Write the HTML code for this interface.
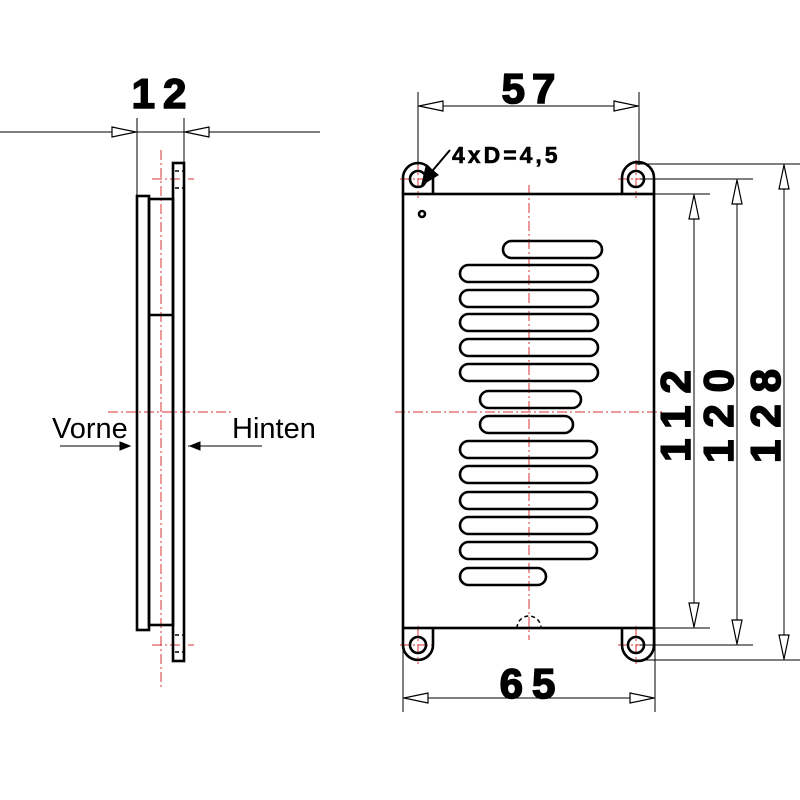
<!DOCTYPE html>
<html><head><meta charset="utf-8"><style>html,body{margin:0;padding:0;background:#fff}svg{display:block}</style></head>
<body>
<svg width="800" height="800" viewBox="0 0 800 800" xmlns="http://www.w3.org/2000/svg">
<defs>
<marker id="ar" viewBox="0 0 26 12" refX="26" refY="6" markerWidth="26" markerHeight="12" markerUnits="userSpaceOnUse" orient="auto">
<path d="M1,1 L25,6 L1,11 Z" fill="#fff" stroke="#000" stroke-width="1.2"/></marker>
</defs>
<g fill="none" stroke="#d33" stroke-width="1" stroke-dasharray="10,3,2,3">
<line x1="161" y1="150" x2="161" y2="690"/>
<line x1="108" y1="412" x2="232" y2="412"/>
<line x1="152" y1="179" x2="194" y2="179"/>
<line x1="152" y1="645" x2="194" y2="645"/>
<line x1="529" y1="185" x2="529" y2="640"/>
<line x1="395" y1="412" x2="665" y2="412"/>
<line x1="400" y1="179" x2="436" y2="179"/><line x1="418" y1="160" x2="418" y2="198"/>
<line x1="618" y1="179" x2="654" y2="179"/><line x1="636" y1="160" x2="636" y2="198"/>
<line x1="400" y1="645" x2="436" y2="645"/><line x1="418" y1="626" x2="418" y2="664"/>
<line x1="618" y1="645" x2="654" y2="645"/><line x1="636" y1="626" x2="636" y2="664"/>
</g>
<g fill="none" stroke="#000" stroke-width="1">
<line x1="0" y1="132" x2="320" y2="132"/>
<line x1="137" y1="118" x2="137" y2="195"/>
<line x1="184" y1="118" x2="184" y2="163"/>
<line x1="60" y1="446" x2="130" y2="446"/>
<line x1="262" y1="446" x2="188" y2="446"/>
</g>
<line x1="90" y1="132" x2="137" y2="132" stroke="#000" marker-end="url(#ar)"/>
<line x1="230" y1="132" x2="184" y2="132" stroke="#000" marker-end="url(#ar)"/>
<path d="M120,442 L130,446 L120,450 Z" fill="#000" stroke="#000"/>
<path d="M200,442 L190,446 L200,450 Z" fill="#000" stroke="#000"/>
<g fill="none" stroke="#000" stroke-width="2.6">
<rect x="137" y="196" width="12" height="434"/>
<rect x="149" y="199" width="24" height="426"/>
<line x1="149" y1="315" x2="173" y2="315"/>
<rect x="173" y="163" width="11" height="498"/>
</g>
<g stroke="#000" stroke-width="1.5" stroke-dasharray="4,3">
<line x1="175" y1="171" x2="183" y2="171"/><line x1="175" y1="188" x2="183" y2="188"/>
<line x1="175" y1="635" x2="183" y2="635"/><line x1="175" y1="652" x2="183" y2="652"/>
</g>
<g font-family="Liberation Sans, sans-serif" fill="#000">
<text x="52" y="438" font-size="29">Vorne</text>
<text x="232" y="438" font-size="29">Hinten</text>
<g font-weight="bold" stroke="#000" stroke-width="1.6" text-anchor="middle">
<text x="163" y="108" font-size="42" letter-spacing="8">12</text>
<text x="532" y="103" font-size="42" letter-spacing="7">57</text>
<text x="532" y="698" font-size="42" letter-spacing="9">65</text>
<text transform="translate(690,410) rotate(-90)" font-size="42" letter-spacing="12">112</text>
<text transform="translate(733,410) rotate(-90)" font-size="42" letter-spacing="12">120</text>
<text transform="translate(780,410) rotate(-90)" font-size="42" letter-spacing="12">128</text>
</g>
<text x="452" y="163" font-size="23" font-weight="bold" stroke="#000" stroke-width="0.6" letter-spacing="3">4xD=4,5</text>
</g>
<g fill="none" stroke="#000" stroke-width="2.6">
<path d="M403,194 L403,178 A15,15 0 0 1 433,178 L433,194"/>
<path d="M622,194 L622,178 A16,16 0 0 1 654,178 L654,194"/>
<rect x="403" y="194" width="251" height="434"/>
<path d="M403,628 L403,645 A15,15 0 0 0 433,645 L433,628"/>
<path d="M622,628 L622,645 A16,16 0 0 0 654,645 L654,628"/>
<circle cx="418" cy="179" r="8"/><circle cx="636" cy="179" r="8"/>
<circle cx="418" cy="645" r="8"/><circle cx="636" cy="645" r="8"/>
<circle cx="422" cy="214" r="3"/>
<rect x="503" y="241" width="99" height="17" rx="8.5"/>
<rect x="460" y="265" width="138" height="17" rx="8.5"/>
<rect x="460" y="290" width="138" height="17" rx="8.5"/>
<rect x="460" y="314" width="138" height="17" rx="8.5"/>
<rect x="460" y="339" width="138" height="17" rx="8.5"/>
<rect x="460" y="364" width="138" height="17" rx="8.5"/>
<rect x="480" y="391" width="101" height="17" rx="8.5"/>
<rect x="480" y="416" width="93" height="17" rx="8.5"/>
<rect x="460" y="441" width="137" height="17" rx="8.5"/>
<rect x="460" y="466" width="137" height="17" rx="8.5"/>
<rect x="460" y="492" width="137" height="17" rx="8.5"/>
<rect x="460" y="517" width="137" height="17" rx="8.5"/>
<rect x="460" y="542" width="137" height="17" rx="8.5"/>
<rect x="460" y="568" width="86" height="17" rx="8.5"/>
</g>
<path d="M517,628 A12,12 0 0 1 541,628" fill="none" stroke="#000" stroke-width="1.5" stroke-dasharray="4,3"/>
<g fill="none" stroke="#000" stroke-width="1">
<line x1="418" y1="92" x2="418" y2="165"/><line x1="639" y1="92" x2="639" y2="165"/>
<line x1="403" y1="628" x2="403" y2="712"/><line x1="655" y1="628" x2="655" y2="712"/>
<line x1="636" y1="164" x2="800" y2="164"/>
<line x1="640" y1="179" x2="753" y2="179"/>
<line x1="655" y1="194" x2="710" y2="194"/>
<line x1="655" y1="628" x2="710" y2="628"/>
<line x1="640" y1="645" x2="753" y2="645"/>
<line x1="636" y1="660" x2="800" y2="660"/>
</g>
<line x1="528" y1="106" x2="418" y2="106" stroke="#000" marker-end="url(#ar)"/>
<line x1="528" y1="106" x2="639" y2="106" stroke="#000" marker-end="url(#ar)"/>
<line x1="529" y1="698" x2="403" y2="698" stroke="#000" marker-end="url(#ar)"/>
<line x1="529" y1="698" x2="655" y2="698" stroke="#000" marker-end="url(#ar)"/>
<line x1="694" y1="411" x2="694" y2="194" stroke="#000" marker-end="url(#ar)"/>
<line x1="694" y1="411" x2="694" y2="628" stroke="#000" marker-end="url(#ar)"/>
<line x1="737" y1="412" x2="737" y2="179" stroke="#000" marker-end="url(#ar)"/>
<line x1="737" y1="412" x2="737" y2="645" stroke="#000" marker-end="url(#ar)"/>
<line x1="784" y1="412" x2="784" y2="164" stroke="#000" marker-end="url(#ar)"/>
<line x1="784" y1="412" x2="784" y2="660" stroke="#000" marker-end="url(#ar)"/>
<line x1="450" y1="150" x2="428" y2="176" stroke="#000" stroke-width="2"/>
<path d="M421,186 L426,164 L439,175 Z" fill="#000"/>
</svg>
</body></html>
